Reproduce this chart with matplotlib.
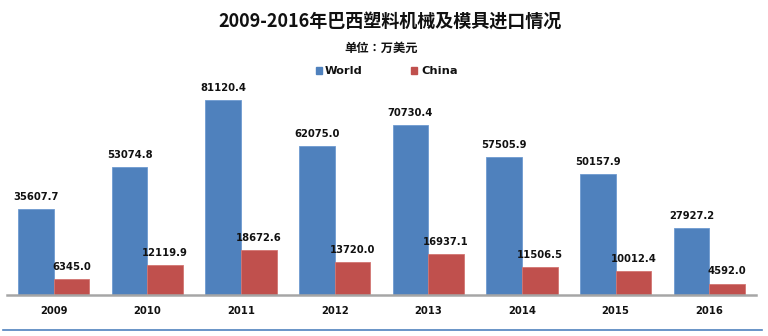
import matplotlib
matplotlib.use("Agg")
import matplotlib.pyplot as plt
from matplotlib.lines import Line2D
import numpy as np

plt.rcParams['font.family'] = ['Noto Sans CJK SC', 'DejaVu Sans']

years = ["2009", "2010", "2011", "2012", "2013", "2014", "2015", "2016"]
world = [35607.7, 53074.8, 81120.4, 62075.0, 70730.4, 57505.9, 50157.9, 27927.2]
china = [6345.0, 12119.9, 18672.6, 13720.0, 16937.1, 11506.5, 10012.4, 4592.0]

title = "2009-2016年巴西塑料机械及模具进口情况"
subtitle = "单位：万美元"
series_names = ["World", "China"]
colors = ["#4F81BD", "#C0504D"]

LATIN = "DejaVu Sans"

W, H = 768, 336
fig = plt.figure(figsize=(W / 100, H / 100), dpi=100)
fig.patch.set_facecolor("white")

ax_left, ax_right = 7, 756
ax_bottom, ax_top = 294.5, 90
ax = fig.add_axes([ax_left / W, 1 - ax_bottom / H,
                   (ax_right - ax_left) / W, (ax_bottom - ax_top) / H])

x = np.arange(len(years))
bw = 0.38
ax.bar(x - bw / 2, world, bw, color=colors[0], edgecolor="#6F9AD0", linewidth=0.6)
ax.bar(x + bw / 2, china, bw, color=colors[1], edgecolor="#D27572", linewidth=0.6)

ax.set_xlim(-0.5, len(years) - 0.5)
ax.set_ylim(0, 85460)

for offset, vals in [(-bw / 2, world), (bw / 2, china)]:
    for xi, v in zip(x, vals):
        ax.annotate(f"{v:.1f}", (xi + offset, v), xytext=(0, 6.5), textcoords="offset points",
                    ha="center", va="baseline", fontsize=7.2, fontweight="bold",
                    family=LATIN, color="#111111")

for s in ["top", "right", "left"]:
    ax.spines[s].set_visible(False)
ax.spines["bottom"].set_color("#A6A6A6")
ax.spines["bottom"].set_linewidth(1.8)
ax.set_yticks([])
ax.set_xticks(x)
ax.set_xticklabels(years, fontsize=7.2, fontweight="bold", family=LATIN, color="#111111")
ax.tick_params(axis="x", length=0, pad=8.5)
ax.patch.set_alpha(0)

fig.text(390 / W, 1 - 22 / H, title, ha="center", va="center",
         fontsize=13, fontweight="bold", color="#111111")
fig.text(381.5 / W, 1 - 48 / H, subtitle, ha="center", va="center",
         fontsize=8.8, fontweight="bold", family=["Noto Sans CJK JP", "DejaVu Sans"],
         color="#111111")

# legend
for sx, tx, name, c in [(316, 325, series_names[0], colors[0]),
                        (411, 421.5, series_names[1], colors[1])]:
    fig.patches.append(plt.Rectangle((sx / W, 1 - 74.3 / H), 5.5 / W, 7 / H,
                                     transform=fig.transFigure, color=c))
    fig.text(tx / W, 1 - 70.5 / H, name, ha="left", va="center",
             fontsize=8.2, fontweight="bold", family=LATIN, color="#111111")

fig.lines.append(Line2D([3 / W, 762 / W], [1 - 330 / H, 1 - 330 / H],
                        transform=fig.transFigure, color="#4F81BD", linewidth=1.2))

fig.savefig("out.png", dpi=100)
